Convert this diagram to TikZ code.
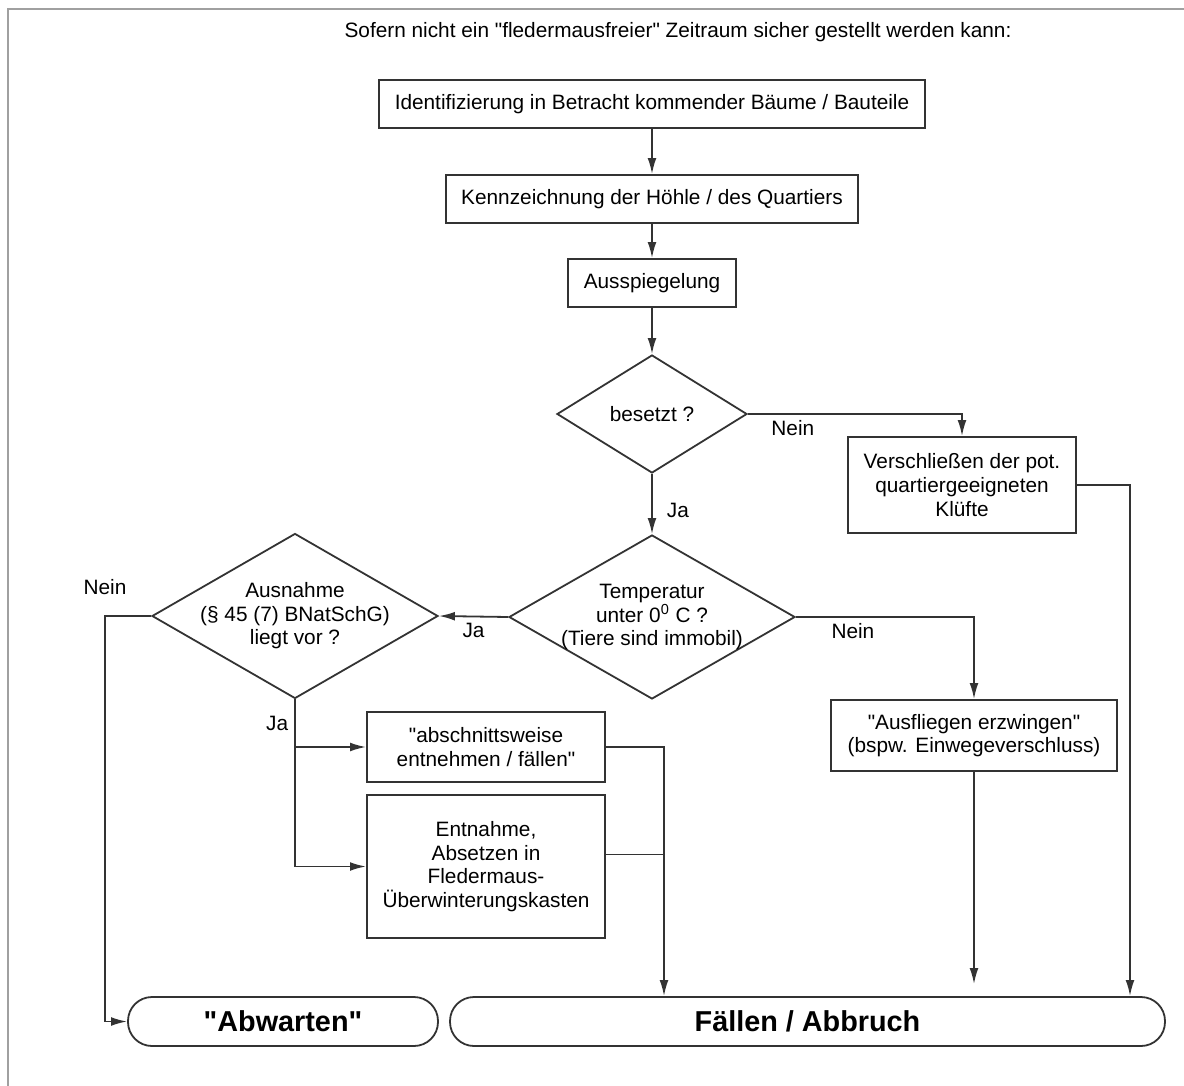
\documentclass[tikz,border=0pt]{standalone}
\usepackage{fontspec}
\setmainfont{Liberation Sans}[Ligatures=TeXOff]
\usepackage{tikz}
\usetikzlibrary{
  % enables the diamond shape
  shapes.geometric,%
  arrows.meta,%
  calc,%
  positioning
}
\definecolor{linegray}{HTML}{333333}
\definecolor{framegray}{HTML}{A0A0A0}
\tikzset{>={Latex[length=8pt,width=4.4pt]}}
\tikzset{font=\fontsize{10.4}{11.8}\selectfont}
\tikzset{box/.style={rectangle, draw, align=center, inner xsep=7.8pt,
    minimum height=24pt},
  decision/.style={diamond, draw, inner sep=0pt},
  terminal/.style={rectangle, draw, rounded corners=12pt,
    minimum height=24.5pt, font=\fontsize{14.4}{16}\selectfont\bfseries},
  answer/.style={inner sep=3pt}}

\begin{document}
\begin{tikzpicture}[x=0.5pt, y=-0.5pt, draw=linegray, line width=0.9pt]
  \useasboundingbox (0,0) rectangle (1184,1086);
  % frame of the page
  \draw[framegray, line width=1pt] (8,1086) -- (8,9) -- (1184,9);
  \node (title) at (678,32)
    {Sofern nicht ein "fledermausfreier" Zeitraum sicher gestellt werden kann:};

  \node[box] (ident) at (652,104)
    {Identifizierung in Betracht kommender Bäume / Bauteile};
  \node[box] (kenn) at (652,199) {Kennzeichnung der Höhle / des Quartiers};
  \node[box] (spieg) at (652,283) {Ausspiegelung};
  \node[decision, minimum width=95pt, minimum height=59pt] (bes) at (652,414)
    {besetzt ?};
  \node[box, minimum width=107pt, minimum height=48pt] (ver) at (962,485)
    {Verschließen der pot.\\quartiergeeigneten\\Klüfte};
  \node[decision, minimum width=143pt, minimum height=82pt,
    label={[align=center]center:Temperatur\\unter 0\textsuperscript{0} C ?\\(Tiere sind immobil)}]
    (temp) at (652,617) {};
  \node[box, minimum width=143pt, minimum height=35.5pt] (ausf) at (974,735.5)
    {"Ausfliegen erzwingen"\\(bspw. Einwegeverschluss)};
  \node[decision, minimum width=143pt, minimum height=82.5pt,
    label={[align=center]center:Ausnahme\\(§ 45 (7) BNatSchG)\\liegt vor ?}]
    (ausn) at (295,616) {};
  \node[box, minimum width=119pt, minimum height=35pt] (abschn) at (486,747)
    {"abschnittsweise\\entnehmen / fällen"};
  \node[box, minimum width=119pt, minimum height=71.5pt] (entn) at (486,866.5)
    {Entnahme,\\Absetzen in\\Fledermaus-\\Überwinterungskasten};
  \node[terminal, minimum width=155pt] (abw) at (283,1021.5) {"Abwarten"};
  \node[terminal, minimum width=357.5pt] (fall) at (807.5,1021.5)
    {Fällen / Abbruch};

  % corners of the connectors
  \coordinate (neinl) at (105,616);
  \coordinate (mitte) at (664,747);
  \coordinate (rechts) at (1130,485);

  \draw[->] (ident) -- (kenn);
  \draw[->] (kenn) -- (spieg);
  \draw[->] (spieg) -- (bes);
  \draw[->] (bes.east) -| node[answer, below, pos=0.105] {Nein} (ver.north);
  \draw[->] (bes.south) -- node[answer, right=4pt, pos=0.6] {Ja} (temp.north);
  \draw[->] (temp.east) -| node[answer, below, pos=0.16] {Nein} (ausf.north);
  \draw[->] (temp.west) -- node[answer, below] {Ja} (ausn.east);
  \draw[->] (ausn.west) -- node[answer, above=7pt, pos=1] {Nein} (neinl)
    |- (abw.west);
  \draw[->] (ausn.south) |- node[answer, left, pos=0.25] {Ja} (abschn.west);
  \draw[->] (ausn.south) |- (entn.west);
  \draw[->] (abschn.east) -- (mitte) -- (mitte |- fall.north);
  \draw ([yshift=6pt]entn.east) -- ([yshift=6pt]entn.east -| mitte);
  \draw[->, shorten >=6pt] (ausf.south) -- (ausf.south |- fall.north);
  \draw[->] (ver.east) -- (rechts) -- (rechts |- fall.north);
\end{tikzpicture}
\end{document}
